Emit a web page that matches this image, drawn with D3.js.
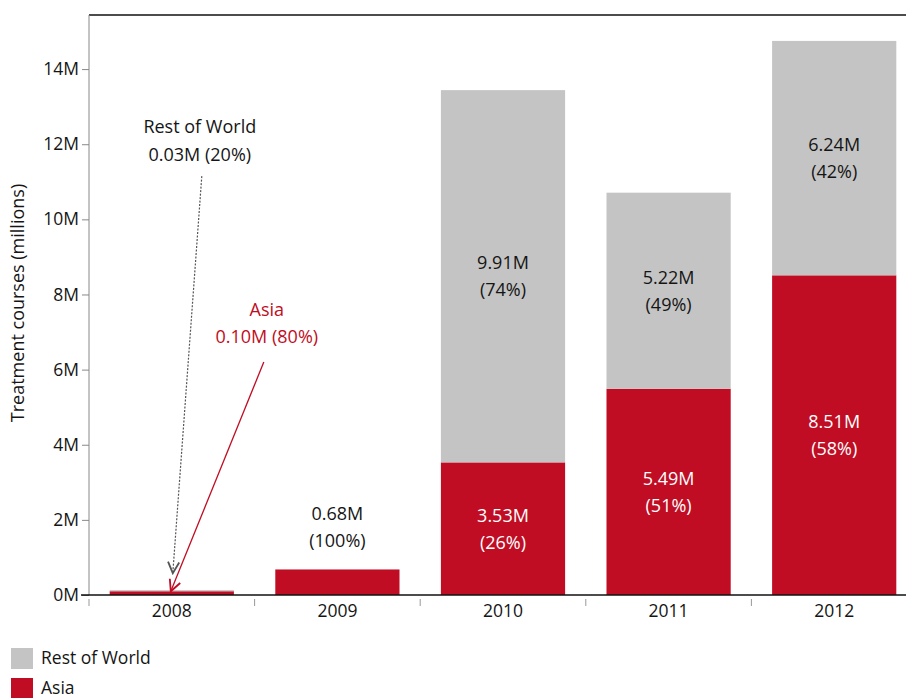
<!DOCTYPE html>
<html><head><meta charset="utf-8">
<script src="https://cdn.jsdelivr.net/npm/d3@7"></script>
<style>
body{margin:0;background:#fff;}
text{font-family:"Open Sans",Lato,sans-serif;}
</style></head>
<body><svg id="c" width="906" height="698"></svg>
<script>
const years = ["2008","2009","2010","2011","2012"];
const asia = [0.10, 0.68, 3.53, 5.49, 8.51];
const rest = [0.03, 0, 9.91, 5.22, 6.24];
const asiaPct = [80, 100, 26, 51, 58];
const restPct = [20, 0, 74, 49, 42];
const yTicks = [0, 2, 4, 6, 8, 10, 12, 14];
const seriesNames = ["Rest of World", "Asia"];

const RED = "#c00d23", GRAY = "#c4c4c4", INK = "#151515";
const FS = 17.5;
const svg = d3.select("#c");
const x = d3.scaleBand().domain(years).range([89, 917]).paddingInner(0.25).paddingOuter(0.125);
const y = d3.scaleLinear().domain([0, 15.44]).range([595, 15]);

// frame top
svg.append("line").attr("x1", 89).attr("x2", 906).attr("y1", 15).attr("y2", 15).attr("stroke", "#111").attr("stroke-width", 1.5);

// y axis
const ya = svg.append("g").attr("transform", "translate(89,0)")
  .call(d3.axisLeft(y).tickValues(yTicks).tickFormat(d => d + "M").tickSize(7).tickPadding(3));
ya.select(".domain").attr("stroke", "#888").attr("d", "M0," + y(15.44) + "V" + y(0));
ya.selectAll(".tick line").attr("stroke", "#888");
ya.selectAll(".tick text").attr("font-size", FS).attr("fill", INK).style("font-family", "'Open Sans'");

// x axis
const xa = svg.append("g").attr("transform", "translate(0,595)")
  .call(d3.axisBottom(x).tickSize(0).tickPadding(10));
xa.select(".domain").remove();
xa.selectAll(".tick text").attr("font-size", FS).attr("fill", INK).style("font-family", "'Open Sans'");
// boundary ticks
const step = x.step();
years.forEach((yr, i) => {
  const xb = i === 0 ? x.range()[0] : x(yr) - (x.paddingInner() * step) / 2;
  svg.append("line").attr("x1", xb).attr("x2", xb).attr("y1", 599).attr("y2", 606).attr("stroke", "#999");
});

// bars
const bw = x.bandwidth();
years.forEach((yr, i) => {
  svg.append("rect").attr("x", x(yr)).attr("width", bw)
    .attr("y", y(asia[i])).attr("height", y(0) - y(asia[i])).attr("fill", RED);
  if (rest[i] > 0) {
    svg.append("rect").attr("x", x(yr)).attr("width", bw)
      .attr("y", y(asia[i] + rest[i])).attr("height", y(asia[i]) - y(asia[i] + rest[i])).attr("fill", GRAY);
  }
});

// baseline
svg.append("line").attr("x1", 81).attr("x2", 906).attr("y1", y(0)).attr("y2", y(0)).attr("stroke", "#111").attr("stroke-width", 1.5);

// segment labels
function twoLine(cx, cy, a, b, color, w) {
  const t = svg.append("text").attr("text-anchor", "middle").attr("font-size", 18).attr("fill", color).attr("font-weight", w || 400);
  t.append("tspan").attr("x", cx).attr("y", cy - 7).text(a);
  t.append("tspan").attr("x", cx).attr("y", cy + 20).text(b);
}
years.forEach((yr, i) => {
  const cx = x(yr) + bw / 2;
  if (i >= 2) {
    twoLine(cx, (y(0) + y(asia[i])) / 2, asia[i].toFixed(2) + "M", "(" + asiaPct[i] + "%)", "#fff", 500);
    twoLine(cx, (y(asia[i]) + y(asia[i] + rest[i])) / 2, rest[i].toFixed(2) + "M", "(" + restPct[i] + "%)", INK);
  } else if (i === 1) {
    twoLine(cx, y(asia[i]) - 42, asia[i].toFixed(2) + "M", "(" + asiaPct[i] + "%)", INK);
  }
});

// annotations for 2008
const defs = svg.append("defs");
function marker(id, color) {
  defs.append("marker").attr("id", id).attr("viewBox", "0 0 10 10").attr("refX", 9).attr("refY", 5)
    .attr("markerWidth", 14).attr("markerHeight", 14).attr("markerUnits", "userSpaceOnUse").attr("orient", "auto")
    .append("path").attr("d", "M1,1 L9,5 L1,9").attr("fill", "none").attr("stroke", color).attr("stroke-width", 1.3);
}
marker("mg", "#555"); marker("mr", RED);
const c08 = x("2008") + bw / 2;
svg.append("line").attr("x1", c08 + 30).attr("y1", y(11.15)).attr("x2", c08 + 1).attr("y2", y(0.58))
  .attr("stroke", "#555").attr("stroke-width", 1.2).attr("stroke-dasharray", "2,1.5").attr("marker-end", "url(#mg)");
svg.append("line").attr("x1", c08 + 92).attr("y1", y(6.2)).attr("x2", c08 - 1).attr("y2", y(asia[0]))
  .attr("stroke", RED).attr("stroke-width", 1.3).attr("marker-end", "url(#mr)");
const t1 = svg.append("text").attr("text-anchor", "middle").attr("font-size", 18).attr("fill", INK);
t1.append("tspan").attr("x", c08 + 28).attr("y", y(12.6) + 11).text(seriesNames[0]);
t1.append("tspan").attr("x", c08 + 28).attr("y", y(12.6) + 39).text(rest[0].toFixed(2) + "M (" + restPct[0] + "%)");
const t2 = svg.append("text").attr("text-anchor", "middle").attr("font-size", 18).attr("fill", RED);
t2.append("tspan").attr("x", c08 + 95).attr("y", y(7.7) + 10).text(seriesNames[1]);
t2.append("tspan").attr("x", c08 + 95).attr("y", y(7.7) + 37).text(asia[0].toFixed(2) + "M (" + asiaPct[0] + "%)");

// y title
svg.append("text").attr("transform", "translate(24,303) rotate(-90)").attr("text-anchor", "middle")
  .attr("font-size", 18).attr("fill", INK).text("Treatment courses (millions)");

// legend
const lg = svg.append("g");
[[GRAY, seriesNames[0], 648], [RED, seriesNames[1], 678]].forEach(([c, n, ly]) => {
  lg.append("rect").attr("x", 11).attr("y", ly).attr("width", 22).attr("height", 21).attr("fill", c);
  lg.append("text").attr("x", 41).attr("y", ly + 16).attr("font-size", FS).attr("fill", INK).text(n);
});
</script></body></html>
